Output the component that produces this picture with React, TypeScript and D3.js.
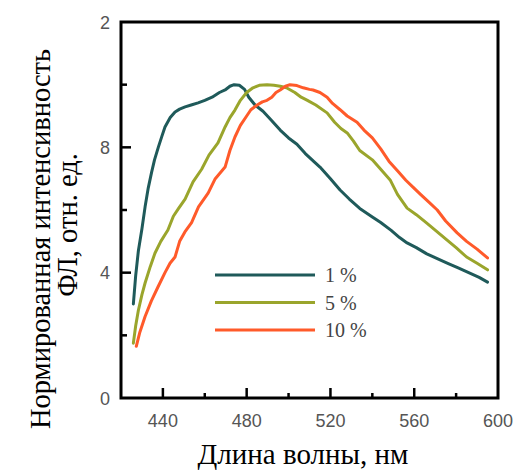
import React from "react";
import * as d3 from "d3";

const wl1 = [425.9, 427, 428.3, 430, 431.5, 433, 434.6, 436, 437.8, 439.5, 441, 443.5, 445.8, 448, 450.6, 453.5, 456.8, 460, 463.5, 467, 469.7, 472, 474, 476.5, 479, 481, 484, 487.8, 492, 496, 500, 504, 508, 512, 515, 520, 524.6, 529, 534, 540, 544, 549, 553, 556.6, 561, 566, 571, 576, 581, 586, 591, 595];
const int1 = [3.0, 3.9, 4.7, 5.4, 6.1, 6.7, 7.2, 7.6, 8.0, 8.35, 8.65, 8.95, 9.13, 9.22, 9.29, 9.35, 9.42, 9.5, 9.6, 9.75, 9.83, 9.95, 10.0, 9.98, 9.85, 9.6, 9.35, 9.15, 8.85, 8.55, 8.3, 8.1, 7.8, 7.55, 7.37, 7.0, 6.64, 6.35, 6.05, 5.78, 5.6, 5.35, 5.12, 4.95, 4.8, 4.6, 4.45, 4.3, 4.15, 4.0, 3.85, 3.7];

const wl5 = [425.9, 427, 428.3, 430, 431.5, 434, 436.2, 439, 442.4, 445, 447.5, 450.6, 454.4, 458.5, 462, 466.3, 469.7, 472, 474.4, 477, 480, 483, 486, 489.7, 493, 496, 499, 503, 506, 509, 513, 518.4, 522, 525, 528, 531, 534, 540, 544, 548.5, 552, 556.6, 561, 566, 571, 575.7, 580, 585, 590, 595];
const int5 = [1.75, 2.3, 2.8, 3.3, 3.67, 4.2, 4.62, 5.0, 5.36, 5.8, 6.05, 6.35, 6.9, 7.3, 7.75, 8.14, 8.65, 8.95, 9.19, 9.5, 9.75, 9.9, 9.98, 10.0, 9.98, 9.95, 9.9, 9.75, 9.6, 9.5, 9.35, 9.1, 8.8, 8.6, 8.46, 8.2, 7.9, 7.6, 7.3, 6.96, 6.5, 6.06, 5.85, 5.58, 5.3, 5.04, 4.8, 4.5, 4.3, 4.09];

const wl10 = [427.3, 429, 431.5, 434.5, 437.7, 441, 443.4, 445.8, 448, 450.5, 453.7, 457, 461.6, 465, 469.7, 472, 474.4, 477, 480, 482, 485, 487.5, 489.7, 492, 494, 496, 498.5, 500.7, 504, 507, 510, 511.7, 515, 518.4, 521, 524.6, 528, 532.7, 536, 540, 544, 548, 552, 556, 559.4, 563, 567, 571, 575, 580.5, 585, 590, 595];
const int10 = [1.65, 2.1, 2.6, 3.1, 3.55, 4.0, 4.3, 4.5, 5.0, 5.3, 5.6, 6.1, 6.54, 7.0, 7.37, 7.9, 8.33, 8.7, 9.0, 9.2, 9.35, 9.45, 9.5, 9.6, 9.75, 9.83, 9.95, 10.0, 9.97, 9.9, 9.85, 9.83, 9.75, 9.6, 9.4, 9.2, 9.0, 8.8, 8.55, 8.3, 7.95, 7.55, 7.25, 6.95, 6.73, 6.5, 6.25, 6.0, 5.65, 5.27, 5.0, 4.75, 4.47];

const seriesLabels = ["1 %", "5 %", "10 %"];
const seriesColors = ["#1f5a5a", "#9aa52c", "#ff5a2a"];

const xTickValues = [440, 480, 520, 560, 600];
const xMinorTicks = [460, 500, 540, 580];
const yTickValues = [0, 4, 8, 12];
const yTickLabels = ["0", "4", "8", "2"];
const yMinorTicks = [2, 6, 10];

const xTitle = "Длина волны, нм";
const yTitle1 = "Нормированная интенсивность";
const yTitle2 = "ФЛ, отн. ед.";

export default function App() {
  const W = 515, H = 470;
  const left = 121, right = 498, top = 22, bottom = 398;
  const x = d3.scaleLinear().domain([420, 600]).range([left, right]);
  const y = d3.scaleLinear().domain([0, 12]).range([bottom, top]);
  const line = d3.line<[number, number]>().x(d => x(d[0])).y(d => y(d[1]));

  const series = [
    wl1.map((w, i) => [w, int1[i]] as [number, number]),
    wl5.map((w, i) => [w, int5[i]] as [number, number]),
    wl10.map((w, i) => [w, int10[i]] as [number, number]),
  ];

  const tickFont = "'Liberation Sans', Arial, sans-serif";
  const serif = "'Liberation Serif', 'Times New Roman', serif";

  return (
    <svg width={W} height={H} style={{ position: "absolute", left: 0, top: 0, background: "#fff" }}>
      {series.map((s, i) => (
        <path key={i} d={line(s) || ""} fill="none" stroke={seriesColors[i]} strokeWidth={3} strokeLinejoin="round" strokeLinecap="round" />
      ))}
      {/* frame */}
      <rect x={left} y={top} width={right - left} height={bottom - top} fill="none" stroke="#000" strokeWidth={3} />
      {/* x ticks */}
      {xTickValues.map(v => (
        <g key={v}>
          {v < 600 && <line x1={x(v)} x2={x(v)} y1={bottom} y2={bottom - 10} stroke="#000" strokeWidth={2.5} />}
          <text x={x(v)} y={427} textAnchor="middle" fontFamily={tickFont} fontSize={18} fill="#555">{v}</text>
        </g>
      ))}
      {xMinorTicks.map(v => (
        <line key={v} x1={x(v)} x2={x(v)} y1={bottom} y2={bottom - 5} stroke="#000" strokeWidth={2.5} />
      ))}
      {/* y ticks */}
      {yTickValues.map((v, i) => (
        <g key={v}>
          {v > 0 && v < 12 && <line x1={left} x2={left + 10} y1={y(v)} y2={y(v)} stroke="#000" strokeWidth={2.5} />}
          <text x={110} y={y(v) + 6.5} textAnchor="end" fontFamily={tickFont} fontSize={18} fill="#555">{yTickLabels[i]}</text>
        </g>
      ))}
      {yMinorTicks.map(v => (
        <line key={v} x1={left} x2={left + 6} y1={y(v)} y2={y(v)} stroke="#000" strokeWidth={2.5} />
      ))}
      {/* legend */}
      {seriesLabels.map((lab, i) => {
        const ly = 275 + i * 27.5;
        return (
          <g key={lab}>
            <line x1={215} x2={315} y1={ly} y2={ly} stroke={seriesColors[i]} strokeWidth={3} />
            <text x={325} y={ly + 7} fontFamily={serif} fontSize={20} fill="#444">{lab}</text>
          </g>
        );
      })}
      {/* axis titles */}
      <text x={303} y={464} textAnchor="middle" fontFamily={serif} fontSize={29} fill="#000">{xTitle}</text>
      <text transform={`translate(50,239) rotate(-90)`} textAnchor="middle" fontFamily={serif} fontSize={28.5} fill="#000">{yTitle1}</text>
      <text transform={`translate(77,225) rotate(-90)`} textAnchor="middle" fontFamily={serif} fontSize={28.5} fill="#000">{yTitle2}</text>
    </svg>
  );
}
